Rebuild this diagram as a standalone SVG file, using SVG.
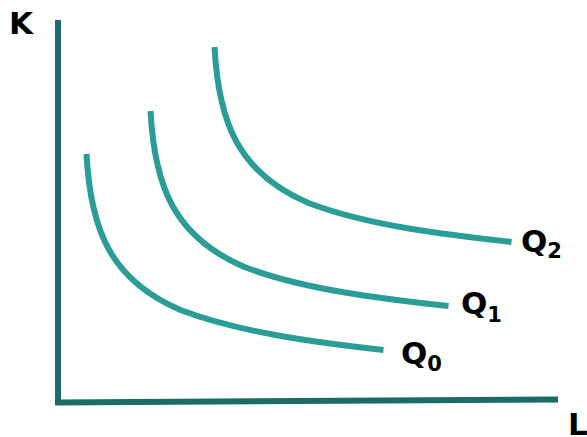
<svg xmlns="http://www.w3.org/2000/svg" width="587" height="437" viewBox="0 0 587 437">
<style>
.axis{fill:none;stroke:#1d6b66;stroke-width:6;stroke-linecap:butt}
.curve{fill:none;stroke:#2a9d96;stroke-width:6;stroke-linecap:butt}
.lbl{font-family:"DejaVu Sans",Verdana,sans-serif;font-weight:bold;fill:#000;font-size:31px}
.sub{font-size:21px}
</style>
<rect width="587" height="437" fill="#fff"/>
<g id="axes">
<path class="axis" d="M58,20 L58,403 M55,402.5 L558,399.5"/>
</g>
<g id="connectors">
<path id="Q0-curve" class="curve" d="M86.5,154 C90.5,230 110.5,280 180.5,310 C240.5,333 320.5,343 383.5,350"/>
<path id="Q1-curve" class="curve" d="M150.5,111 C154.5,187 174.5,237 244.5,267 C304.5,290 384.5,299 448.5,306"/>
<path id="Q2-curve" class="curve" d="M214.5,47 C218.5,123 238.5,173 308.5,203 C368.5,226 448.5,235 511.5,242"/>
</g>
<g id="label-K"><text class="lbl" x="9" y="34">K</text></g>
<g id="label-L"><text class="lbl" x="568" y="435">L</text></g>
<g id="Q2"><text class="lbl" x="521" y="252">Q<tspan class="sub" y="258">2</tspan></text></g>
<g id="Q1"><text class="lbl" x="461" y="314">Q<tspan class="sub" y="322">1</tspan></text></g>
<g id="Q0"><text class="lbl" x="401" y="364">Q<tspan class="sub" y="371">0</tspan></text></g>
</svg>
